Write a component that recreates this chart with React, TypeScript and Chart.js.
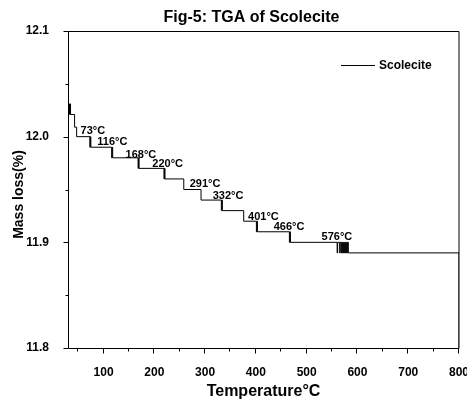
import React, { useEffect, useRef } from "react";
import { Chart, registerables } from "chart.js";

Chart.register(...registerables);

const TITLE = "Fig-5: TGA of Scolecite";
const SERIES_NAME = "Scolecite";
const X_TITLE = "Temperature°C";
const Y_TITLE = "Mass loss(%)";

const X_MIN = 30;
const X_MAX = 800;
const Y_MIN = 11.8;
const Y_MAX = 12.1;

const X_MAJOR_TICKS = [100, 200, 300, 400, 500, 600, 700, 800];
const X_MINOR_TICKS = [50, 150, 250, 350, 450, 550, 650, 750];
const Y_MAJOR_TICKS = [11.8, 11.9, 12.0, 12.1];
const Y_MINOR_TICKS = [11.85, 11.95, 12.05];

// Step-wise TGA trace (temperature in °C, mass in %)
const temperatures = [
  31, 33, 34, 35, 43, 47,
  73, 74, 75,
  116, 117, 118,
  168, 169, 170,
  219, 220, 221,
  258, 292,
  332, 333, 334, 335,
  376,
  401, 402, 403,
  466, 467, 468,
  560, 561, 565, 566,
  568, 569, 570, 571, 572, 573, 574, 575, 576, 577, 578, 579, 580, 581, 582,
  800, 800,
];
const massValues = [
  12.031, 12.021, 12.031, 12.021, 12.009, 12.0,
  11.99, 12.0, 11.99,
  11.98, 11.99, 11.98,
  11.97, 11.98, 11.97,
  11.96, 11.97, 11.96,
  11.95, 11.94,
  11.93, 11.94, 11.93, 11.93,
  11.92,
  11.91, 11.92, 11.91,
  11.9, 11.91, 11.9,
  11.89, 11.9, 11.89, 11.9,
  11.89, 11.9, 11.89, 11.9, 11.89, 11.9, 11.89, 11.9, 11.89, 11.9, 11.89, 11.9, 11.89, 11.9, 11.89,
  11.89, 11.75,
];

// Step annotations
const stepLabels = ["73°C", "116°C", "168°C", "220°C", "291°C", "332°C", "401°C", "466°C", "576°C"];
const labelTemps = [54.7, 87.6, 143.4, 196, 269.6, 315, 384.6, 435, 529.4];
const labelMass = [12.0054, 11.9947, 11.983, 11.974, 11.955, 11.944, 11.924, 11.9146, 11.905];

const FONT = "Arial, 'Liberation Sans', sans-serif";

const overlayPlugin = {
  id: "overlay",
  afterDraw(chart: any) {
    const ctx = chart.ctx as CanvasRenderingContext2D;
    const { left, right, top, bottom } = chart.chartArea;
    const xs = chart.scales.x;
    const ys = chart.scales.y;
    ctx.save();
    ctx.strokeStyle = "#000";
    ctx.fillStyle = "#000";
    ctx.lineWidth = 1;

    // frame
    const L = Math.round(left) + 0.5;
    const R = xs.getPixelForValue(X_MAX);
    const T = Math.round(top) + 0.5;
    const B = Math.round(bottom) + 0.5;
    ctx.beginPath();
    ctx.moveTo(L, T);
    ctx.lineTo(R, T);
    ctx.moveTo(R, T);
    ctx.lineTo(R, B);
    ctx.moveTo(L, T);
    ctx.lineTo(L, B);
    ctx.lineTo(R, B);
    ctx.stroke();

    // tick marks
    ctx.beginPath();
    X_MAJOR_TICKS.forEach((v) => {
      const px = Math.round(xs.getPixelForValue(v)) - 0.5;
      ctx.moveTo(px, B);
      ctx.lineTo(px, B + 5);
    });
    X_MINOR_TICKS.forEach((v) => {
      const px = Math.round(xs.getPixelForValue(v)) - 0.5;
      ctx.moveTo(px, B);
      ctx.lineTo(px, B + 3);
    });
    Y_MAJOR_TICKS.forEach((v) => {
      const py = Math.round(ys.getPixelForValue(v)) + 0.5;
      ctx.moveTo(L, py);
      ctx.lineTo(L - 5, py);
    });
    Y_MINOR_TICKS.forEach((v) => {
      const py = Math.round(ys.getPixelForValue(v)) + 0.5;
      ctx.moveTo(L, py);
      ctx.lineTo(L - 3, py);
    });
    ctx.stroke();

    // chart title
    ctx.font = `bold 16px ${FONT}`;
    ctx.textAlign = "center";
    ctx.textBaseline = "middle";
    ctx.fillText(TITLE, (left + right) / 2 - 12, 18);

    // axis titles
    ctx.font = `bold 16px ${FONT}`;
    ctx.fillText(X_TITLE, (left + right) / 2, 392);
    ctx.save();
    ctx.translate(19.5, (top + bottom) / 2 + 5);
    ctx.rotate(-Math.PI / 2);
    ctx.font = `bold 14px ${FONT}`;
    ctx.fillText(Y_TITLE, 0, 0);
    ctx.restore();

    // legend
    ctx.beginPath();
    ctx.moveTo(right - 118, top + 34.5);
    ctx.lineTo(right - 84, top + 34.5);
    ctx.stroke();
    ctx.font = `bold 12px ${FONT}`;
    ctx.textAlign = "left";
    ctx.textBaseline = "middle";
    ctx.fillText(SERIES_NAME, right - 80, top + 34.5);

    // step annotations
    ctx.font = `bold 11px ${FONT}`;
    ctx.textAlign = "left";
    ctx.textBaseline = "middle";
    stepLabels.forEach((t, i) => {
      ctx.fillText(t, xs.getPixelForValue(labelTemps[i]), ys.getPixelForValue(labelMass[i]));
    });

    ctx.restore();
  },
};

export default function App() {
  const canvasRef = useRef<HTMLCanvasElement | null>(null);

  useEffect(() => {
    if (!canvasRef.current) return;
    const points = temperatures.map((t, i) => ({ x: t, y: massValues[i] }));
    const chart = new Chart(canvasRef.current, {
      type: "line",
      data: {
        datasets: [
          {
            label: SERIES_NAME,
            data: points,
            stepped: "before",
            borderColor: "#000",
            borderWidth: 1,
            pointRadius: 0,
            fill: false,
            tension: 0,
          },
        ],
      },
      options: {
        responsive: false,
        animation: false,
        devicePixelRatio: 1,
        layout: { padding: { top: 31, right: 8, bottom: 0, left: 0 } },
        plugins: {
          legend: { display: false },
          title: { display: false },
          tooltip: { enabled: false },
        },
        scales: {
          x: {
            type: "linear",
            min: X_MIN,
            max: X_MAX,
            grid: { display: false },
            border: { display: false },
            afterBuildTicks: (s: any) => {
              s.ticks = X_MAJOR_TICKS.map((v) => ({ value: v }));
            },
            afterFit: (s: any) => {
              s.height = 53;
              s.paddingLeft = 0;
              s.paddingRight = 0;
            },
            ticks: {
              autoSkip: false,
              maxRotation: 0,
              padding: 9,
              color: "#000",
              font: { family: FONT, size: 12, weight: "bold" },
              callback: (v: any) => String(v),
            },
          },
          y: {
            type: "linear",
            min: Y_MIN,
            max: Y_MAX,
            grid: { display: false },
            border: { display: false },
            afterBuildTicks: (s: any) => {
              s.ticks = Y_MAJOR_TICKS.map((v) => ({ value: v }));
            },
            afterFit: (s: any) => {
              s.width = 68;
              s.paddingTop = 0;
              s.paddingBottom = 0;
            },
            ticks: {
              autoSkip: false,
              padding: 11,
              color: "#000",
              font: { family: FONT, size: 12, weight: "bold" },
              callback: (v: any) => Number(v).toFixed(1),
            },
          },
        },
      } as any,
      plugins: [overlayPlugin],
    });
    return () => chart.destroy();
  }, []);

  return (
    <div style={{ position: "absolute", left: 0, top: 0, width: 467, height: 401, background: "#fff" }}>
      <canvas ref={canvasRef} width={467} height={401} style={{ display: "block" }} />
    </div>
  );
}
